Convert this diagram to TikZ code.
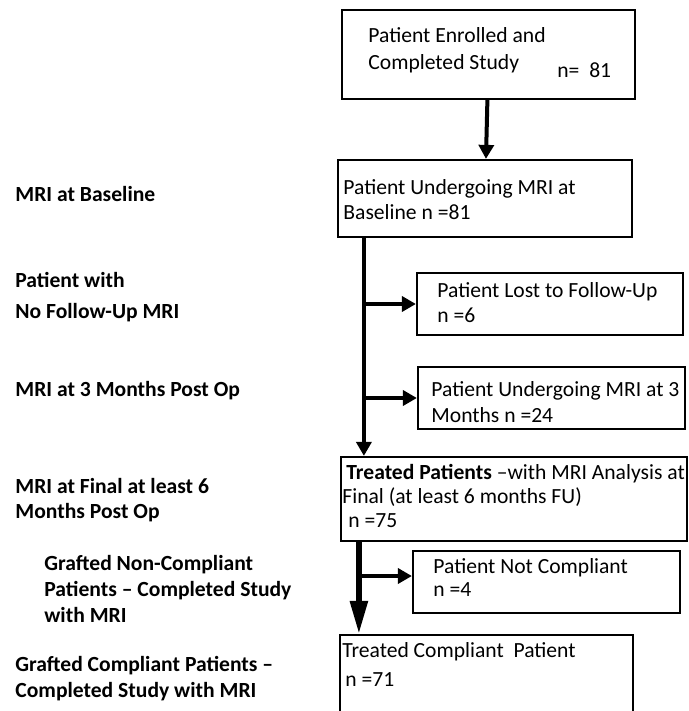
\documentclass[tikz,border=0pt]{standalone}
\usepackage{fontspec}
\setmainfont{Carlito}
\usetikzlibrary{arrows.meta}

\begin{document}
\begin{tikzpicture}[x = 0.5pt, y = -0.5pt,
        box/.style 2 args = {draw, line width = 1.1pt, inner sep = 0pt, minimum width = #1, minimum height = #2},
        lbl/.style = {anchor = base west, align = left, inner sep = 0pt, font = \fontsize{10.8}{#1}\selectfont},
        lbl/.default = 12.5,
        side/.style = {lbl, font = \fontsize{10.8}{#1}\selectfont\bfseries},
        side/.default = 12.5,
        arr/.style = {line width = 2pt, -{Triangle[length = 7pt, width = 7.5pt]}},
        bigarr/.style = {line width = 2.8pt, -{Triangle[length = 16.5pt, width = 8.5pt]}}]
    \useasboundingbox (0, 0) rectangle (689, 711);
    \clip (0, 0) rectangle (689, 711);

    % boxes
    \node[box = {146.5pt}{44.5pt}] (enrolled) at (488.5, 54.5) {};
    \node[box = {147pt}{38.5pt}] (baseline) at (485, 198.5) {};
    \node[box = {133pt}{31pt}] (lost) at (550, 304) {};
    \node[box = {133.5pt}{31pt}] (threemo) at (551.5, 398) {};
    \node[box = {173pt}{42pt}] (final) at (514, 499) {};
    \node[box = {133.5pt}{31pt}] (noncomp) at (546.5, 582) {};
    \node[box = {146.5pt}{45pt}] (comp) at (486.5, 680) {};

    % box texts (anchored at the baseline of the last line)
    \node[lbl = 13.5] (enrolledtxt) at (368, 70) {Patient Enrolled and\\Completed Study};
    \node[lbl] (enrolledn) at (557, 78) {n=\ \ 81};
    \node[lbl] (baselinetxt) at (343, 220) {Patient Undergoing MRI at\\Baseline n =81};
    \node[lbl] (losttxt) at (437, 322) {Patient Lost to Follow-Up\\n =6};
    \node[lbl = 13] (threemotxt) at (431, 422) {Patient Undergoing MRI at 3\\Months n =24};
    \node[lbl = 12] (finaltxt) at (342, 527) {\hspace*{2pt}\textbf{Treated Patients} –with MRI Analysis at\\Final (at least 6 months FU)\\\hspace*{3pt}n =75};
    \node[lbl = 11.5] (noncomptxt) at (433, 596) {Patient Not Compliant\\n =4};
    \node[lbl = 14.5] (comptxt) at (342, 686) {Treated Compliant\ \ Patient\\\hspace*{1.5pt}n =71};

    % stage labels
    \node[side] (s1) at (15, 202) {MRI at Baseline};
    \node[side = 15.5] (s2) at (15, 318) {Patient with\\No Follow-Up MRI};
    \node[side] (s3) at (15, 396) {MRI at 3 Months Post Op};
    \node[side] (s4) at (15, 518) {MRI at Final at least 6\\Months Post Op};
    \node[side = 13] (s5) at (44, 622) {Grafted Non-Compliant\\Patients – Completed Study\\with MRI};
    \node[side = 13] (s6) at (15, 697) {Grafted Compliant Patients –\\Completed Study with MRI};

    % connectors
    \draw[arr] (enrolled) -- (baseline);
    \draw[arr] ([xshift = 13.5pt]baseline.south west) coordinate (trunk) -- (trunk |- final.north);
    \draw[arr] (trunk |- lost.west) -- (lost.west);
    \draw[arr] (trunk |- threemo.west) -- (threemo.west);
    \draw[bigarr] ([xshift = 9.5pt]final.south west) coordinate (trunkb) -- (trunkb |- comp.north);
    \coordinate (noncompin) at ([yshift = 3pt]noncomp.west);
    \draw[arr] (trunkb |- noncompin) -- (noncompin);
\end{tikzpicture}
\end{document}
